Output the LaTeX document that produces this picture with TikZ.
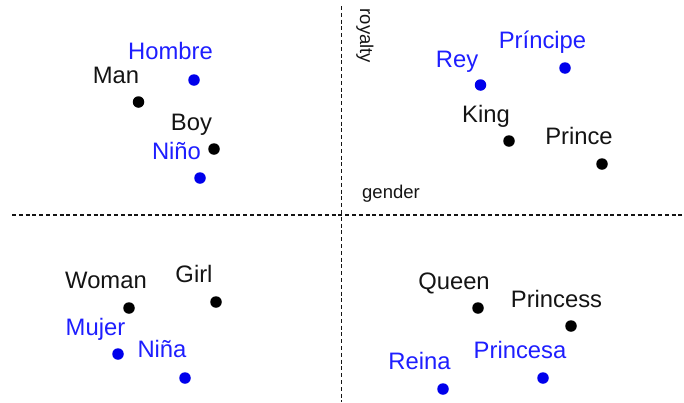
\documentclass[tikz,border=0pt]{standalone}
\usepackage{fontspec}
\setmainfont{Liberation Sans}
\definecolor{esblue}{RGB}{30,30,255}
\definecolor{dotblue}{RGB}{0,0,235}
\definecolor{ink}{RGB}{20,20,20}
\begin{document}
\begin{tikzpicture}[x=1pt,y=-1pt,
  en/.style={anchor=base,text=ink,font=\fontsize{23.8}{27}\selectfont,inner sep=0pt},
  es/.style={en,text=esblue},
  axislabel/.style={inner sep=0pt,text=ink,font=\fontsize{18.5}{21}\selectfont},
  endot/.style={circle,fill=black,inner sep=0pt,minimum size=11.5pt},
  esdot/.style={endot,fill=dotblue},
  axis/.style={line width=1.1pt,dash pattern=on 4pt off 2.8pt,ink}]
\useasboundingbox (0,0) rectangle (684,402);

% axes
\coordinate (vtop) at (341.5,6);
\coordinate (vbot) at (341.5,402);
\coordinate (hleft) at (12,215);
\coordinate (hright) at (684,215);
\draw[axis] (vtop) -- (vbot);
\draw[axis] (hleft) -- (hright);
\node[axislabel,rotate=-90] (royalty) at (365,36) {royalty};
\node[axislabel,anchor=base] (gender) at (391,198) {gender};

% male words
\node[es] (tHombre) at (170.5,59) {Hombre};
\node[esdot] (dHombre) at (194,80) {};
\node[en] (tMan) at (116,83) {Man};
\node[endot] (dMan) at (138.5,102) {};
\node[en] (tBoy) at (191.5,130) {Boy};
\node[endot] (dBoy) at (214,149) {};
\node[es] (tNino) at (176.5,159) {Niño};
\node[esdot] (dNino) at (200,178) {};

% royal male words
\node[es] (tPrincipe) at (542.5,48) {Príncipe};
\node[esdot] (dPrincipe) at (565,68) {};
\node[es] (tRey) at (457,67) {Rey};
\node[esdot] (dRey) at (480.5,85) {};
\node[en] (tKing) at (486,122) {King};
\node[endot] (dKing) at (509,141) {};
\node[en] (tPrince) at (579,144) {Prince};
\node[endot] (dPrince) at (602,164) {};

% female words
\node[en] (tWoman) at (106,288) {Woman};
\node[endot] (dWoman) at (129,308) {};
\node[en] (tGirl) at (194,282) {Girl};
\node[endot] (dGirl) at (216,302) {};
\node[es] (tMujer) at (95.5,335) {Mujer};
\node[esdot] (dMujer) at (118,354) {};
\node[es] (tNina) at (162,357) {Niña};
\node[esdot] (dNina) at (185,378) {};

% royal female words
\node[en] (tQueen) at (454,289) {Queen};
\node[endot] (dQueen) at (478,308) {};
\node[en] (tPrincess) at (556.5,307) {Princess};
\node[endot] (dPrincess) at (571,326) {};
\node[es] (tPrincesa) at (520,358) {Princesa};
\node[esdot] (dPrincesa) at (543,378) {};
\node[es] (tReina) at (419.5,369) {Reina};
\node[esdot] (dReina) at (443,389) {};
\end{tikzpicture}
\end{document}
